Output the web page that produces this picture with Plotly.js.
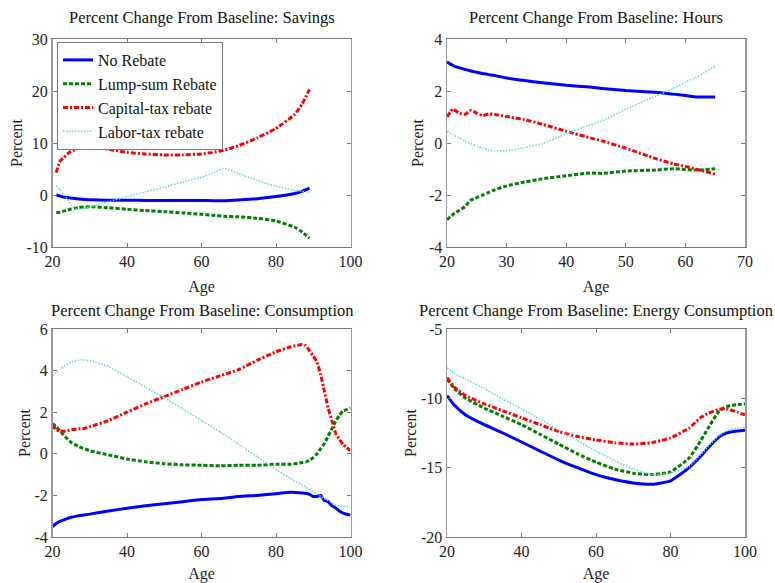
<!DOCTYPE html>
<html>
<head>
<meta charset="utf-8">
<script src="https://cdn.plot.ly/plotly-3.0.1.min.js"></script>
<style>html,body{margin:0;padding:0;background:#fff;}#chart{width:775px;height:583px;}</style>
</head>
<body>
<div id="chart"></div>
<script>
// ---------- Data ----------
const seriesNames = ["No Rebate", "Lump-sum Rebate", "Capital-tax rebate", "Labor-tax rebate"];
const panelTitles = ["Percent Change From Baseline: Savings", "Percent Change From Baseline: Hours",
                     "Percent Change From Baseline: Consumption", "Percent Change From Baseline: Energy Consumption"];

// Savings
const savAge   = [21,22,23,24,25,26,27,30,35,40,45,50,55,60,63,66,70,75,80,85,87,89];
const savNo    = [0,-0.2,-0.4,-0.5,-0.6,-0.68,-0.75,-0.9,-1.0,-1.0,-1.05,-1.05,-1.05,-1.05,-1.1,-1.1,-0.95,-0.7,-0.3,0.3,0.7,1.3];
const savLump  = [-3.35,-3.3,-3.1,-2.9,-2.7,-2.55,-2.4,-2.25,-2.45,-2.75,-3.0,-3.2,-3.45,-3.7,-3.9,-4.1,-4.2,-4.5,-5.0,-6.2,-7.1,-8.3];
const savCap   = [4.3,6.5,7.2,7.9,8.4,8.7,9.0,9.3,8.8,8.2,7.9,7.7,7.7,7.9,8.2,8.6,9.5,11.0,12.8,15.5,17.5,20.3];
const savLab   = [1.8,1.0,0.1,-0.8,-2.0,-2.6,-2.8,-2.3,-1.3,-0.3,0.6,1.5,2.5,3.4,4.2,5.1,4.1,2.8,1.7,0.9,0.7,0.5];

// Hours
const hrsAge   = [20,21,22,23,24,25,26,27,28,30,33,36,40,44,46,50,55,58,60,62,65];
const hrsNo    = [3.12,2.98,2.9,2.83,2.77,2.72,2.67,2.63,2.6,2.5,2.4,2.32,2.22,2.15,2.1,2.02,1.95,1.88,1.83,1.77,1.77];
const hrsLump  = [-2.95,-2.75,-2.6,-2.45,-2.2,-2.1,-2.0,-1.9,-1.8,-1.65,-1.5,-1.38,-1.26,-1.15,-1.17,-1.08,-1.04,-0.99,-1.02,-1.04,-0.99];
const hrsCap   = [1.0,1.3,1.15,1.1,1.25,1.15,1.05,1.12,1.1,1.02,0.9,0.72,0.45,0.2,0.08,-0.2,-0.6,-0.8,-0.9,-1.02,-1.2];
const hrsLab   = [0.45,0.32,0.2,0.08,-0.02,-0.12,-0.2,-0.27,-0.3,-0.3,-0.18,-0.02,0.35,0.7,0.85,1.3,1.8,2.1,2.35,2.55,2.95];

// Consumption
const conAge   = [20,21,22,23,25,27,28,30,35,40,45,50,55,60,65,70,75,80,84,87,88,89,90,91,92,93,94,95,96,97,98,100];
const conNo    = [-3.5,-3.35,-3.25,-3.18,-3.05,-2.98,-2.95,-2.9,-2.75,-2.62,-2.5,-2.4,-2.3,-2.2,-2.15,-2.05,-2.0,-1.92,-1.85,-1.88,-1.9,-1.95,-2.05,-2.05,-2.0,-2.25,-2.3,-2.5,-2.6,-2.75,-2.85,-2.95];
const conLump  = [1.45,1.3,1.1,0.9,0.55,0.35,0.28,0.15,-0.05,-0.25,-0.38,-0.48,-0.53,-0.55,-0.58,-0.55,-0.55,-0.5,-0.5,-0.42,-0.4,-0.3,-0.18,0.0,0.25,0.5,0.85,1.2,1.55,1.85,2.05,2.2];
const conCap   = [1.4,1.15,1.1,1.08,1.15,1.2,1.2,1.3,1.6,2.0,2.4,2.75,3.1,3.45,3.75,4.05,4.5,4.9,5.15,5.25,5.2,4.95,4.7,4.4,3.8,3.0,2.2,1.6,1.0,0.7,0.45,0.15];
const conLab   = [3.75,3.9,4.05,4.2,4.4,4.5,4.52,4.48,4.2,3.7,3.2,2.7,2.15,1.6,1.05,0.45,-0.15,-0.75,-1.2,-1.5,-1.6,-1.72,-1.85,-1.95,-2.05,-2.15,-2.25,-2.35,-2.45,-2.5,-2.52,-2.55];

// Energy consumption
const engAge   = [20,22,25,30,35,40,45,50,55,60,65,70,75,80,85,88,90,93,95,98,100];
const engNo    = [-9.8,-10.5,-11.2,-11.9,-12.5,-13.15,-13.8,-14.45,-15.0,-15.5,-15.85,-16.1,-16.2,-15.95,-15.0,-14.2,-13.6,-12.8,-12.5,-12.35,-12.3];
const engLump  = [-8.6,-9.3,-10.0,-10.7,-11.3,-11.9,-12.6,-13.3,-14.0,-14.6,-15.1,-15.4,-15.5,-15.3,-14.3,-13.1,-12.2,-10.95,-10.6,-10.45,-10.4];
const engCap   = [-8.5,-9.2,-9.8,-10.4,-10.9,-11.4,-11.9,-12.4,-12.75,-13.0,-13.2,-13.3,-13.2,-12.85,-12.15,-11.4,-11.1,-10.8,-10.75,-11.0,-11.2];
const engLab   = [-7.8,-8.2,-8.6,-9.3,-10.05,-10.75,-11.5,-12.3,-13.05,-13.8,-14.5,-15.1,-15.5,-15.4,-14.9,-14.1,-13.5,-12.7,-12.35,-12.15,-12.1];

// Tick labels
const xTicks1 = [20,40,60,80,100];
const xTicks2 = [20,30,40,50,60,70];
const yTicks1 = [-10,0,10,20,30];
const yTicks2 = [-4,-2,0,2,4];
const yTicks3 = [-4,-2,0,2,4,6];
const yTicks4 = [-20,-15,-10,-5];
const xLabel = "Age";
const yLabel = "Percent";

// ---------- Styles ----------
const FONT = '"Liberation Serif", "Times New Roman", serif';
const styles = [
  {color:'#0000ff', width:3, dash:'solid'},
  {color:'#008000', width:3, dash:'4px,2px'},
  {color:'#ff0000', width:3, dash:'5px,2px,2px,2px'},
  {color:'#66dada', width:1.6, dash:'1.5px,1.5px'}
];

const panels = [
  {age:savAge, ys:[savNo,savLump,savCap,savLab], xa:'x',  ya:'y'},
  {age:hrsAge, ys:[hrsNo,hrsLump,hrsCap,hrsLab], xa:'x2', ya:'y2'},
  {age:conAge, ys:[conNo,conLump,conCap,conLab], xa:'x3', ya:'y3'},
  {age:engAge, ys:[engNo,engLump,engCap,engLab], xa:'x4', ya:'y4'}
];

const traces = [];
panels.forEach((p, pi) => {
  p.ys.forEach((y, si) => {
    traces.push({
      type:'scatter', mode:'lines', x:p.age, y:y, name:seriesNames[si],
      xaxis:p.xa, yaxis:p.ya, showlegend: pi === 0,
      line:{color:styles[si].color, width:styles[si].width, dash:styles[si].dash, shape:'spline', smoothing:0.5},
      hoverinfo:'skip'
    });
  });
});

const W = 775, H = 583;
const colL = [52.5/W, 350.5/W], colR = [447/W, 745/W];
const rowT = [1-247/H, 1-39/H], rowB = [1-537/H, 1-329/H];

function fmt(v){ return String(v); }

function xax(domain, range, ticks, anchor){
  return {domain:domain, range:range, anchor:anchor, tickmode:'array', tickvals:ticks, ticktext:ticks.map(fmt),
    ticks:'inside', ticklen:4, tickcolor:'#777', mirror:'ticks', showline:true, linecolor:'#777', linewidth:1,
    showgrid:false, zeroline:false, tickfont:{family:FONT, size:16, color:'#222'},
    title:{text:xLabel, font:{family:FONT, size:16, color:'#222'}, standoff:11}, automargin:false};
}
function yax(domain, range, ticks, anchor, standoff){
  return {domain:domain, range:range, anchor:anchor, tickmode:'array', tickvals:ticks, ticktext:ticks.map(fmt),
    ticks:'inside', ticklen:4, tickcolor:'#777', mirror:'ticks', showline:true, linecolor:'#999', linewidth:1.5,
    showgrid:false, zeroline:false, tickfont:{family:FONT, size:16, color:'#222'},
    title:{text:yLabel, font:{family:FONT, size:16, color:'#222'}, standoff:standoff}, automargin:false};
}

const layout = {
  width:W, height:H, margin:{l:0, r:0, t:0, b:0},
  paper_bgcolor:'#fff', plot_bgcolor:'#fff',
  font:{family:FONT, size:16, color:'#222'},
  xaxis:  xax(colL, [20,100], xTicks1, 'y'),
  yaxis:  yax(rowT, [-10,30], yTicks1, 'x', 0),
  xaxis2: xax(colR, [20,70], xTicks2, 'y2'),
  yaxis2: yax(rowT, [-4,4], yTicks2, 'x2', 1),
  xaxis3: xax(colL, [20,100], xTicks1, 'y3'),
  yaxis3: yax(rowB, [-4,6], yTicks3, 'x3', 0),
  xaxis4: xax(colR, [20,100], xTicks1, 'y4'),
  yaxis4: yax(rowB, [-20,-5], yTicks4, 'x4', 0),
  legend:{x:57/W, y:1-42/H, xanchor:'left', yanchor:'top', bgcolor:'#fff', bordercolor:'#777', borderwidth:1,
          font:{family:FONT, size:16, color:'#111'}, tracegroupgap:0, itemwidth:30},
  annotations:[
    {text:panelTitles[0], x:(colL[0]+colL[1])/2, y:1-18/H},
    {text:panelTitles[1], x:(colR[0]+colR[1])/2, y:1-18/H},
    {text:panelTitles[2], x:(colL[0]+colL[1])/2, y:1-310/H},
    {text:panelTitles[3], x:(colR[0]+colR[1])/2, y:1-310/H}
  ].map(a => Object.assign(a, {xref:'paper', yref:'paper', xanchor:'center', yanchor:'middle', showarrow:false,
                                font:{family:FONT, size:16.5, color:'#111'}}))
};

Plotly.newPlot('chart', traces, layout, {staticPlot:true, displayModeBar:false});
</script>
</body>
</html>
